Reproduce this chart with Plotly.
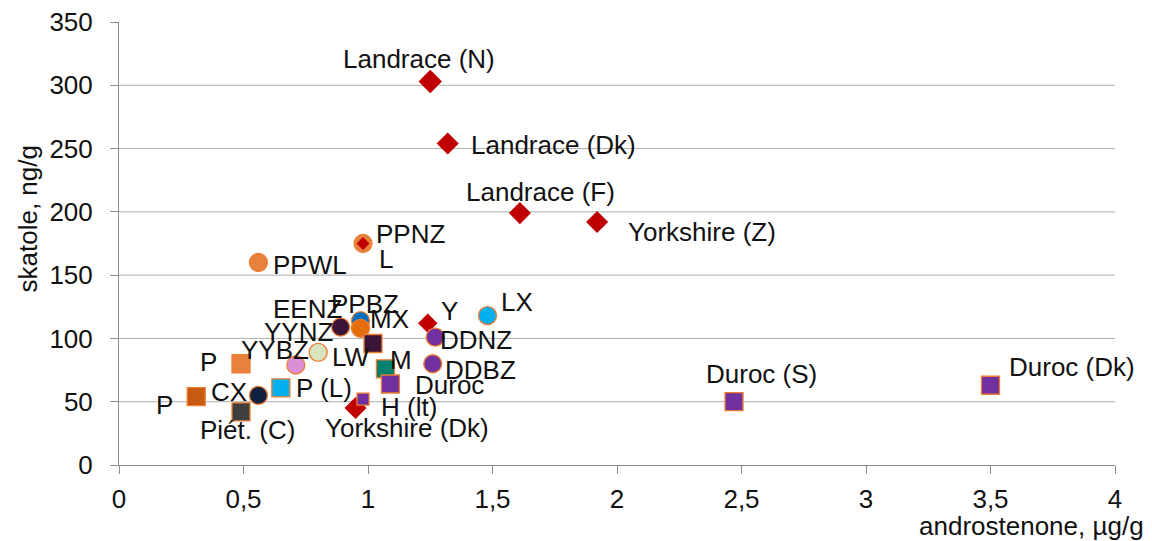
import plotly.graph_objects as go

# ---- data ----
labels = ["Landrace (N)", "Landrace (Dk)", "Landrace (F)", "Yorkshire (Z)",
          "PPNZ", "L", "PPWL", "LX", "Y", "PPBZ", "EENZ", "MX", "LW",
          "YYNZ", "YYBZ", "M", "Duroc", "Yorkshire (Dk)", "H (lt)",
          "DDNZ", "DDBZ", "P", "P", "CX", "P (L)", "Piét. (C)",
          "Duroc (S)", "Duroc (Dk)"]
androstenone = [1.25, 1.32, 1.61, 1.92,
                0.98, 0.98, 0.56, 1.48, 1.24, 0.97, 0.89, 0.97, 1.02,
                0.80, 0.71, 1.07, 1.09, 0.95, 0.98,
                1.27, 1.26, 0.49, 0.31, 0.56, 0.65, 0.49,
                2.47, 3.50]
skatole = [303, 254, 199, 192,
           175, 175, 160, 118, 112, 114, 109, 108, 96,
           89, 79, 76, 64, 45, 52,
           101, 80, 80, 54, 55, 61, 42,
           50, 63]
x_ticks = [0, 0.5, 1, 1.5, 2, 2.5, 3, 3.5, 4]
x_tick_text = ["0", "0,5", "1", "1,5", "2", "2,5", "3", "3,5", "4"]
y_ticks = [0, 50, 100, 150, 200, 250, 300, 350]

# ---- styles ----
RED = "#C00000"
symbols = ["diamond"] * 4 + ["circle", "diamond", "circle", "circle", "diamond",
           "circle", "circle", "circle", "square", "circle", "circle", "square",
           "square", "diamond", "square", "circle", "circle", "square", "square",
           "circle", "square", "square", "square", "square"]
colors = [RED, RED, RED, RED,
          "#E8803E", RED, "#E8803E", "#00B0F0", RED, "#0070C0", "#3A1436",
          "#E46C0A", "#3B1538", "#D7E4BD", "#DA8FD6", "#00806E", "#7030A0",
          RED, "#7030A0", "#7030A0", "#7030A0", "#E8803E", "#C55A11",
          "#0F213F", "#00B0F0", "#3F3F3F", "#7030A0", "#7030A0"]
sizes = [18, 17, 17, 17,
         18, 10, 18, 18, 15, 18, 18, 18, 18,
         18, 18, 18, 18, 17, 12,
         18, 18, 18, 18, 18, 18, 18,
         18, 18]
line_cols = [RED if s == "diamond" else "#ED7D31" for s in symbols]
line_w = [0 if s == "diamond" else 1.3 for s in symbols]

# label placement: (anchor, xshift px, yshift px)
label_pos = [("center", -11, 22), ("left", 21, -1), ("center", 21, 21), ("left", 29, -10),
             ("left", 11, 10), ("left", 14, -15), ("left", 13, -3), ("left", 11, 14),
             ("left", 11, 12), ("center", 4, 17), ("center", -33, 18), ("left", 7, 9),
             ("right", -1, -14), ("center", -20, 20), ("center", -21, 15),
             ("left", 3, 9), ("left", 23, -1), ("center", 51, -20), ("left", 16, -8),
             ("left", 3, -3), ("left", 10, -6), ("right", -22, 2), ("right", -21, -8),
             ("right", -9, 3), ("left", 13, 0), ("center", 6, -18),
             ("center", 27, 28), ("left", 16, 18)]

FONT = "Liberation Sans, Arial, sans-serif"
FS = 26
TXT = "#111111"

fig = go.Figure()
fig.add_trace(go.Scatter(
    x=androstenone, y=skatole, mode="markers", text=labels,
    marker=dict(symbol=symbols, color=colors, size=sizes,
                line=dict(color=line_cols, width=line_w), opacity=1),
    hoverinfo="text+x+y", showlegend=False, cliponaxis=False))

annotations = []
for t, xv, yv, (anc, xs, ys) in zip(labels, androstenone, skatole, label_pos):
    annotations.append(dict(x=xv, y=yv, xref="x", yref="y", text=t, showarrow=False,
                            xanchor=anc, yanchor="middle", xshift=xs, yshift=ys,
                            font=dict(family=FONT, size=FS, color=TXT)))
annotations.append(dict(x=1.0, y=0, xref="paper", yref="paper", text="androstenone, µg/g",
                        showarrow=False, xanchor="right", yanchor="top", xshift=31, yshift=-44,
                        font=dict(family=FONT, size=FS, color=TXT)))
annotations.append(dict(x=0, y=0.5, xref="paper", yref="paper", text="skatole, ng/g",
                        showarrow=False, textangle=-90, xanchor="center", yanchor="middle",
                        xshift=-92, yshift=24,
                        font=dict(family=FONT, size=FS, color=TXT)))

shapes = []
for yv in y_ticks[1:-1]:
    shapes.append(dict(type="line", xref="paper", yref="y", x0=0, x1=1, y0=yv, y1=yv,
                       line=dict(color="#ADADAD", width=1), layer="below"))

fig.update_layout(
    width=1152, height=541,
    margin=dict(l=111, r=45, t=14, b=84, autoexpand=False),
    paper_bgcolor="white", plot_bgcolor="white",
    font=dict(family=FONT, size=FS, color=TXT),
    annotations=annotations, shapes=shapes,
    xaxis=dict(range=[0, 4], tickvals=x_ticks, ticktext=x_tick_text, showgrid=False,
               zeroline=False, showline=True, linecolor="#8C8C8C", linewidth=1,
               ticks="outside", ticklen=8, tickcolor="#8C8C8C", automargin=False,
               ticklabeloverflow="allow",
               tickfont=dict(family=FONT, size=FS, color=TXT), ticklabelstandoff=3),
    yaxis=dict(range=[0, 350], tickvals=y_ticks, showgrid=False, zeroline=False,
               showline=True, linecolor="#8C8C8C", linewidth=1, automargin=False,
               ticks="outside", ticklen=8, tickcolor="#8C8C8C", ticklabeloverflow="allow",
               tickfont=dict(family=FONT, size=FS, color=TXT), ticklabelstandoff=12),
)

fig.write_html("out.html")
